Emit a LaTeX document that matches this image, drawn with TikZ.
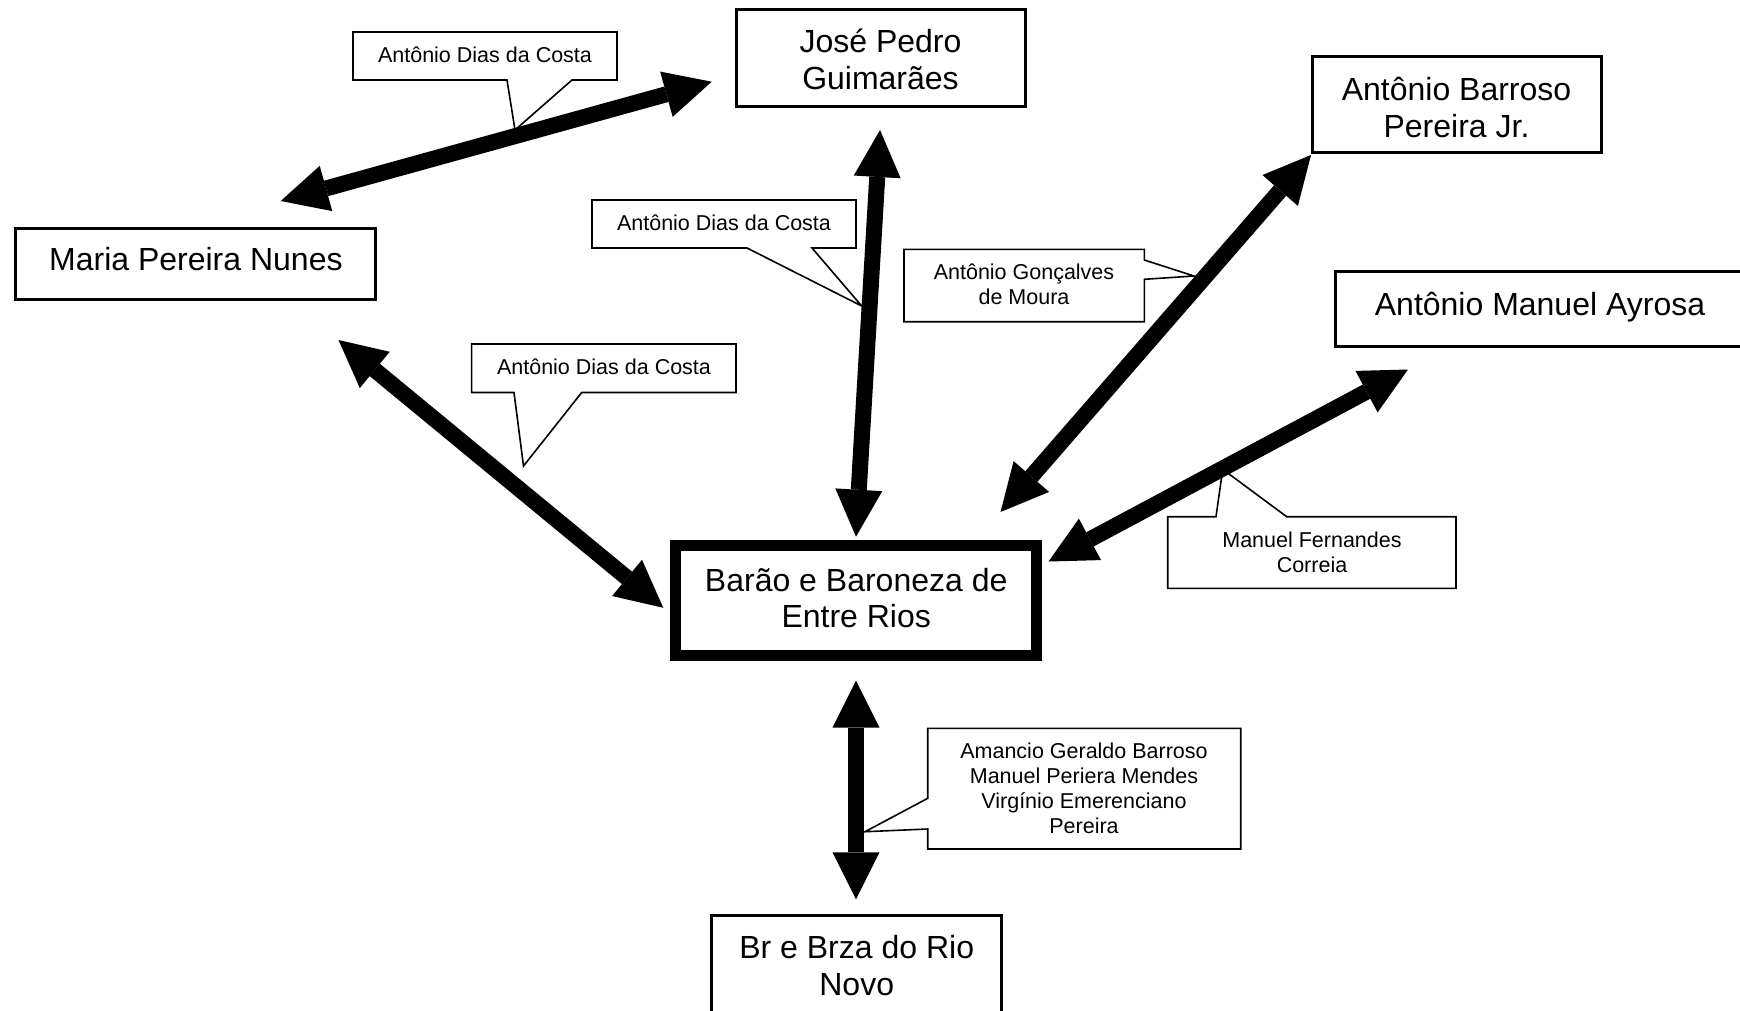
\documentclass[tikz,border=0pt]{standalone}
\usepackage{fontspec}
\setmainfont{Liberation Sans}
\usetikzlibrary{arrows.meta}
\tikzset{
  person/.style={draw, line width=3pt, fill=white, inner sep=0pt},
  hub/.style={person, line width=11pt},
  ptext/.style={align=center, inner sep=0pt, font=\fontsize{32}{36.6}\selectfont},
  note/.style={align=center, inner sep=0pt, font=\fontsize{21.5}{25}\selectfont},
  notebox/.style={draw, line width=1.6pt, fill=white, line join=miter},
  link/.style={line width=16pt,
    {Triangle[width=47pt,length=47pt,line width=0pt]}-{Triangle[width=47pt,length=47pt,line width=0pt]}},
}
\begin{document}
\begin{tikzpicture}[x=1pt,y=-1pt]
\useasboundingbox (0,0) rectangle (1740,1010);
\fill[white] (0,0) rectangle (1740,1010);

% main boxes
\node[person, minimum width=289pt, minimum height=97pt] (jose) at (880.5,57.7) {};
\node[ptext] (jose-t) at (880.5,59.4) {José Pedro\\Guimarães};
\node[person, minimum width=289pt, minimum height=96pt] (barroso) at (1456.5,104.9) {};
\node[ptext] (barroso-t) at (1456.5,107.7) {Antônio Barroso\\Pereira Jr.};
\node[person, minimum width=360pt, minimum height=71pt] (maria) at (195.9,263.6) {};
\node[ptext] (maria-t) at (195.9,259.2) {Maria Pereira Nunes};
\node[person, minimum width=409pt, minimum height=75pt] (ayrosa) at (1540,308.5) {};
\node[ptext] (ayrosa-t) at (1540,307.4) {Antônio Manuel Ayrosa};
\node[hub, minimum width=361pt, minimum height=110pt] (barao) at (856.2,600.9) {};
\node[ptext] (barao-t) at (856.2,598.1) {Barão e Baroneza de\\Entre Rios};
\node[person, minimum width=290pt, minimum height=101pt] (rionovo) at (856.7,965.5) {};
\node[ptext] (rionovo-t) at (856.7,965.5) {Br e Brza do Rio\\Novo};

% callout pointer tips
\coordinate (ta) at (515,130);
\coordinate (tb) at (861.7,306);
\coordinate (tc) at (523.5,466);
\coordinate (td) at (1194,276);
\coordinate (te) at (1222.7,469.3);
\coordinate (tf) at (865,831.7);

% callouts
\draw[notebox] (353,32) -- (617,32) -- (617,80) -- (572,80) -- (ta) -- (507,80) -- (353,80) -- cycle;
\draw[notebox] (592,200) -- (856,200) -- (856,248) -- (812,248) -- (tb) -- (747,248) -- (592,248) -- cycle;
\draw[notebox] (471.6,344) -- (736,344) -- (736,392.5) -- (581.7,392.5) -- (tc) -- (514,392.5) -- (471.6,392.5) -- cycle;
\draw[notebox] (904,249.3) -- (1144.3,249.3) -- (1144.3,260) -- (td) -- (1144.3,279.3) -- (1144.3,321.7) -- (904,321.7) -- cycle;
\draw[notebox] (1167.7,516.7) -- (1216,516.7) -- (te) -- (1286.7,516.7) -- (1456,516.7) -- (1456,588.3) -- (1167.7,588.3) -- cycle;
\draw[notebox] (927.7,728.3) -- (1240.7,728.3) -- (1240.7,849) -- (927.7,849) -- (927.7,829) -- (tf) -- (927.7,798.3) -- cycle;

\node[note] (na) at (485,55) {Antônio Dias da Costa};
\node[note] (nb) at (724,223) {Antônio Dias da Costa};
\node[note] (nc) at (604,367) {Antônio Dias da Costa};
\node[note] (nd) at (1024,284.5) {Antônio Gonçalves\\de Moura};
\node[note] (ne) at (1312,552) {Manuel Fernandes\\Correia};
\node[note] (nf) at (1084,788.2) {Amancio Geraldo Barroso\\Manuel Periera Mendes\\Virgínio Emerenciano\\Pereira};

% arrow end points
\coordinate (a1s) at (280.7,201);   \coordinate (a1e) at (711.7,81.7);
\coordinate (a2s) at (880,130);     \coordinate (a2e) at (856,536.7);
\coordinate (a3s) at (338.5,340);   \coordinate (a3e) at (663.3,607.8);
\coordinate (a4s) at (1311,155);    \coordinate (a4e) at (1000.5,512);
\coordinate (a5s) at (1408,369.5);  \coordinate (a5e) at (1048.5,561.5);
\coordinate (a6s) at (856,680.7);   \coordinate (a6e) at (856,899.3);

\draw[link] (a1s) -- (a1e);
\draw[link] (a2s) -- (a2e);
\draw[link] (a3s) -- (a3e);
\draw[link] (a4s) -- (a4e);
\draw[link] (a5s) -- (a5e);
\draw[link] (a6s) -- (a6e);
\end{tikzpicture}
\end{document}
